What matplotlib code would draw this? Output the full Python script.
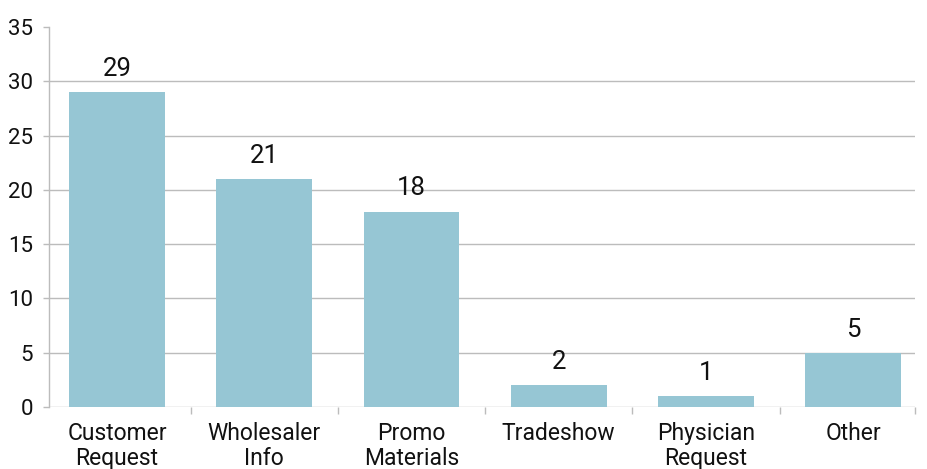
import matplotlib
matplotlib.use("Agg")
import matplotlib.pyplot as plt
import numpy as np

categories = ["Customer\nRequest", "Wholesaler\nInfo", "Promo\nMaterials",
              "Tradeshow", "Physician\nRequest", "Other"]
values = [29, 21, 18, 2, 1, 5]
yticks = [0, 5, 10, 15, 20, 25, 30, 35]

plt.rcParams['font.family'] = ['Roboto', 'DejaVu Sans']

bar_color = '#96c6d4'
grid_color = '#bcbcbc'
text_color = '#111111'

fig = plt.figure(figsize=(9.27, 4.69), dpi=100)
ax = fig.add_axes([0.0529, 0.1322, 0.9342, 0.8102])

x = np.arange(len(categories))
ax.bar(x, values, width=0.65, color=bar_color, zorder=3)

for xi, v in zip(x, values):
    ax.annotate(str(v), (xi, v), xytext=(0, 8), textcoords='offset points',
                ha='center', va='bottom', fontsize=18.5, color=text_color)

# horizontal grid (no line at the top value)
for yv in yticks[:-1]:
    ax.axhline(yv, color=grid_color, lw=1.0, zorder=1)

ax.set_xlim(-0.462, 5.42)
ax.set_ylim(0, 35)
ax.set_yticks(yticks)
ax.tick_params(axis='y', length=4.5, width=1, color=grid_color, pad=7,
               labelsize=16, labelcolor=text_color)

ax.set_xticks(x)
ax.set_xticklabels(categories, fontsize=16.5, color=text_color, linespacing=1.1)
ax.tick_params(axis='x', which='major', length=0, pad=11)
ax.set_xticks(list(x[:-1] + 0.5) + [5.42], minor=True)
ax.tick_params(axis='x', which='minor', length=5, width=1, color=grid_color)

for s in ['top', 'right', 'bottom']:
    ax.spines[s].set_visible(False)
ax.spines['left'].set_color(grid_color)
ax.spines['left'].set_linewidth(1)

fig.savefig("out.png", dpi=100)
